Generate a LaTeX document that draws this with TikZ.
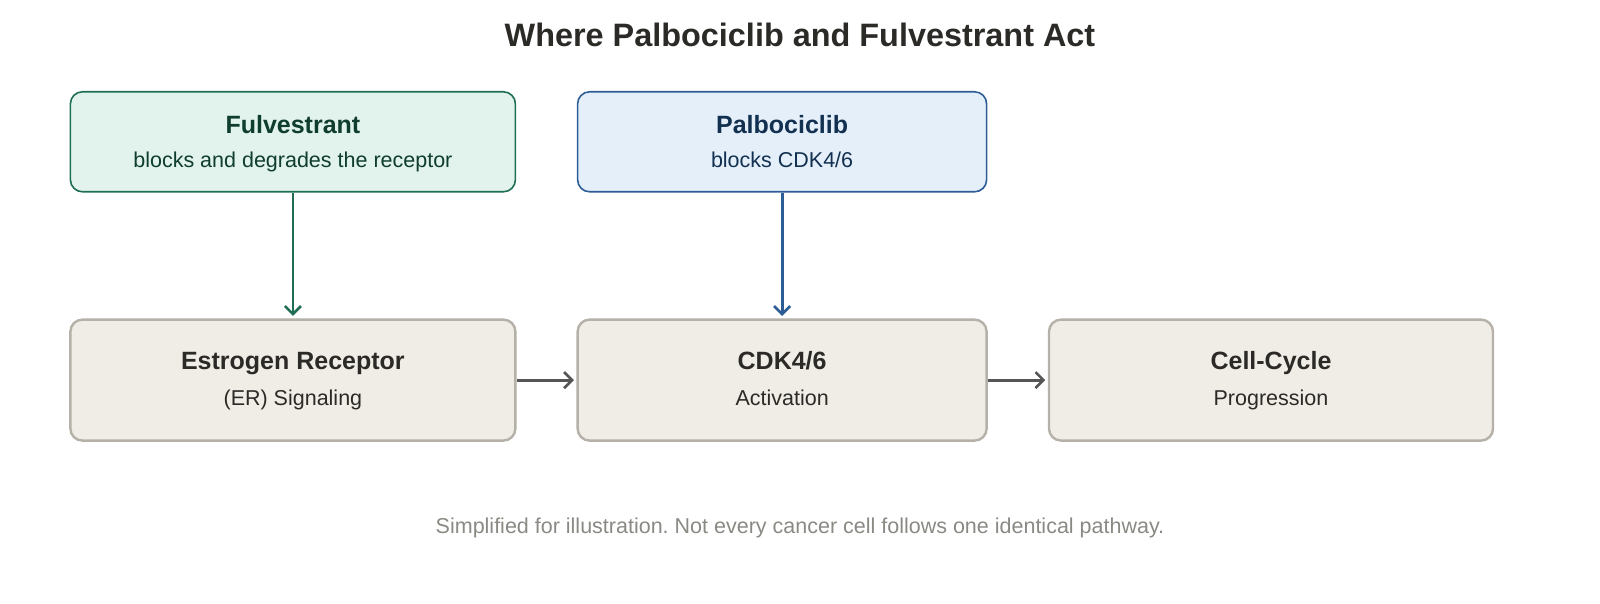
\documentclass[tikz,border=0pt]{standalone}
\usepackage{fontspec}
\setmainfont{Liberation Sans}
\frenchspacing
\usetikzlibrary{positioning, arrows.meta}
\definecolor{fulvfill}{HTML}{E1F3EC}
\definecolor{fulvline}{HTML}{1F6E54}
\definecolor{fulvtext}{HTML}{0F3D2E}
\definecolor{palbofill}{HTML}{E4EFFA}
\definecolor{palboline}{HTML}{2D5D94}
\definecolor{palbotext}{HTML}{12304F}
\definecolor{stagefill}{HTML}{F0EDE6}
\definecolor{stageline}{HTML}{B6B1A8}
\definecolor{inktext}{HTML}{2B2A27}
\definecolor{notetext}{HTML}{8A8983}
\definecolor{flowline}{HTML}{555555}
\tikzset{
x=1pt, y=-1pt, % one unit is one pixel of the drawing
>={Straight Barb[length=8pt, width=16pt, line width=2.6pt]}, % open arrow heads
drug/.style={draw, rounded corners=12pt, line width=1.6pt, minimum height=100pt}, % the two drug boxes
stage/.style={draw=stageline, fill=stagefill, rounded corners=12pt, line width=2.4pt, minimum height=121pt}, % the pathway steps
head/.style={anchor=base, font=\fontsize{25}{30}\selectfont\bfseries}, % first line of a box
sub/.style={anchor=base, font=\fontsize{21.5}{26}\selectfont}, % second line of a box
flow/.style={->, draw=flowline, line width=2.8pt, shorten >=2.5pt}, % arrows between steps
}
\begin{document}
\begin{tikzpicture}
            \useasboundingbox (0,0) rectangle (1600,604);
            \node[anchor=base, text=inktext, font=\fontsize{32.4}{38}\selectfont\bfseries] (title) at (800,47) {Where Palbociclib and Fulvestrant Act};
            % drug boxes
            \node[drug, draw=fulvline, fill=fulvfill, minimum width=445pt] (fulv) at (292.9,141.8) {};
            \node[drug, draw=palboline, fill=palbofill, minimum width=409pt] (palbo) at (782.1,141.8) {};
            \node[head, text=fulvtext] (fulvh) at ([yshift=-43pt]fulv.north) {Fulvestrant};
            \node[sub, text=fulvtext] (fulvs) at ([yshift=-77pt]fulv.north) {blocks and degrades the receptor};
            \node[head, text=palbotext] (palboh) at ([yshift=-43pt]palbo.north) {Palbociclib};
            \node[sub, text=palbotext] (palbos) at ([yshift=-77pt]palbo.north) {blocks CDK4/6};
            % pathway steps
            \node[stage, minimum width=445pt] (er) at (292.9,380.1) {};
            \node[stage, minimum width=409pt] (cdk) at (782.1,380.1) {};
            \node[stage, minimum width=444pt] (cyc) at (1271,380.1) {};
            \node[head, text=inktext] (erh) at ([yshift=-51.5pt]er.north) {Estrogen Receptor};
            \node[sub, text=inktext] (ers) at ([yshift=-87pt]er.north) {(ER) Signaling};
            \node[head, text=inktext] (cdkh) at ([yshift=-51.5pt]cdk.north) {CDK4/6};
            \node[sub, text=inktext] (cdks) at ([yshift=-87pt]cdk.north) {Activation};
            \node[head, text=inktext] (cych) at ([yshift=-51.5pt]cyc.north) {Cell-Cycle};
            \node[sub, text=inktext] (cycs) at ([yshift=-87pt]cyc.north) {Progression};
            \node[anchor=base, text=notetext, font=\fontsize{21.5}{26}\selectfont] (note) at (800,533.5) {Simplified for illustration. Not every cancer cell follows one identical pathway.};
            % arrows
            \draw[flow, draw=fulvline] (fulv) -- (er);
            \draw[flow, draw=palboline] (palbo) -- (cdk);
            \draw[flow] (er) -- (cdk);
            \draw[flow] (cdk) -- (cyc);
\end{tikzpicture}
\end{document}
